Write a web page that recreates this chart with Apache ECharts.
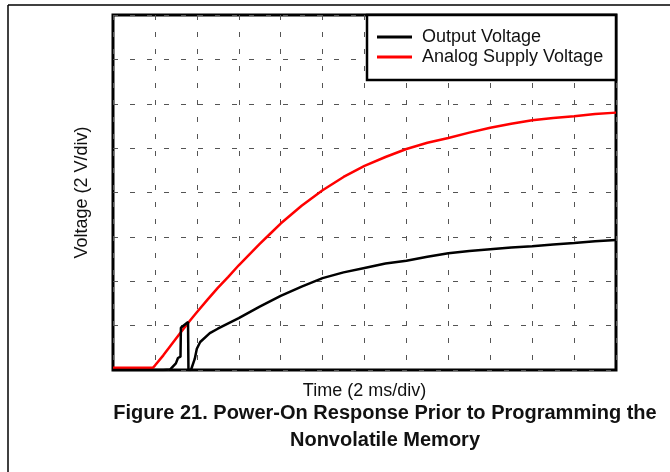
<!DOCTYPE html>
<html>
<head>
<meta charset="utf-8">
<script src="https://cdn.jsdelivr.net/npm/echarts@6/dist/echarts.min.js"></script>
<style>
  html, body { margin: 0; padding: 0; background: #fff; }
  #main { width: 670px; height: 472px; }
</style>
</head>
<body>
<div id="main"></div>
<script>
// time in divisions (2 ms/div), voltage in divisions (2 V/div)
var seriesNames = ['Output Voltage', 'Analog Supply Voltage'];

var outputVoltage = [
    [0, 0], [1.2, 0], [1.36, 0.01], [1.5, 0.15], [1.55, 0.27], [1.61, 0.3],
    [1.62, 0.95], [1.79, 1.08], [1.8, 0], [1.86, 0], [1.95, 0.25], [2.0, 0.48],
    [2.08, 0.63], [2.31, 0.83], [2.5, 0.93], [2.75, 1.05], [3.0, 1.17],
    [3.5, 1.43], [4.0, 1.67], [4.5, 1.88], [5.0, 2.07], [5.5, 2.2], [6.0, 2.3],
    [6.5, 2.4], [7.0, 2.46], [7.5, 2.55], [8.0, 2.63], [8.5, 2.68], [9.0, 2.72],
    [9.5, 2.76], [10, 2.79], [10.5, 2.83], [11, 2.86], [11.5, 2.9], [12, 2.93]
];

var supplyVoltage = [
    [0, 0.05], [0.95, 0.05], [1.0, 0.1], [1.2, 0.33], [1.4, 0.58], [1.6, 0.83],
    [1.8, 1.07], [2.0, 1.3], [2.25, 1.58], [2.5, 1.85], [2.75, 2.1], [3.0, 2.36],
    [3.25, 2.6], [3.5, 2.84], [3.75, 3.07], [4.0, 3.3], [4.5, 3.7], [5.0, 4.05],
    [5.5, 4.35], [6.0, 4.6], [6.5, 4.8], [7.0, 4.98], [7.5, 5.12], [8.0, 5.23],
    [8.5, 5.35], [9.0, 5.46], [9.5, 5.55], [10, 5.63], [10.5, 5.68], [11, 5.72],
    [11.5, 5.77], [12, 5.8]
];

var xDivs = 12;
var yDivs = 8;

var myChart = echarts.init(document.getElementById('main'));

var gridDash = {
    show: true,
    lineStyle: { color: '#555', width: 1, type: [5, 12] }
};

var font = 'Liberation Sans, Arial, sans-serif';

var option = {
    animation: false,
    textStyle: { fontFamily: font },
    grid: {
        show: true,
        left: 113, top: 15, right: 54, bottom: 102,
        borderColor: '#000', borderWidth: 3
    },
    legend: {
        data: [
            { name: seriesNames[0], itemStyle: { color: '#000' } },
            { name: seriesNames[1], itemStyle: { color: '#ff0000' } }
        ],
        orient: 'vertical',
        left: 377, top: 27,
        padding: 0,
        icon: 'rect',
        itemWidth: 35, itemHeight: 3,
        itemGap: 0,
        z: 10,
        textStyle: { fontSize: 18, color: '#111', lineHeight: 20, padding: [0, 0, 0, 5] }
    },
    xAxis: {
        type: 'value', min: 0, max: xDivs, interval: 1,
        name: 'Time (2 ms/div)', nameLocation: 'middle', nameGap: 12,
        nameTextStyle: { fontSize: 18, color: '#111' },
        axisLine: { show: false }, axisTick: { show: false }, axisLabel: { show: false },
        splitLine: gridDash
    },
    yAxis: {
        type: 'value', min: 0, max: yDivs, interval: 1,
        name: 'Voltage (2 V/div)', nameLocation: 'middle', nameGap: 22,
        nameTextStyle: { fontSize: 18, color: '#111' },
        axisLine: { show: false }, axisTick: { show: false }, axisLabel: { show: false },
        splitLine: gridDash
    },
    graphic: [
        { type: 'line', shape: { x1: 8, y1: 5, x2: 670, y2: 5 }, style: { stroke: '#000', lineWidth: 1.5 } },
        { type: 'line', shape: { x1: 8, y1: 5, x2: 8, y2: 472 }, style: { stroke: '#000', lineWidth: 1.5 } },
        {
            type: 'rect', z: 8,
            shape: { x: 367, y: 15, width: 249, height: 65 },
            style: { fill: '#fff', stroke: '#000', lineWidth: 2.5 }
        },
        {
            type: 'text', x: 385, y: 413,
            style: {
                text: 'Figure 21. Power-On Response Prior to Programming the',
                fontSize: 20, fontWeight: 'bold', fill: '#111', fontFamily: font,
                align: 'center', verticalAlign: 'middle'
            }
        },
        {
            type: 'text', x: 385, y: 440,
            style: {
                text: 'Nonvolatile Memory',
                fontSize: 20, fontWeight: 'bold', fill: '#111', fontFamily: font,
                align: 'center', verticalAlign: 'middle'
            }
        }
    ],
    series: [
        {
            name: seriesNames[1], type: 'line', data: supplyVoltage,
            showSymbol: false, z: 2,
            lineStyle: { color: '#ff0000', width: 2.5 }, itemStyle: { color: '#ff0000' }
        },
        {
            name: seriesNames[0], type: 'line', data: outputVoltage,
            showSymbol: false, z: 3,
            lineStyle: { color: '#000', width: 2.5 }, itemStyle: { color: '#000' }
        }
    ]
};

myChart.setOption(option);
</script>
</body>
</html>
